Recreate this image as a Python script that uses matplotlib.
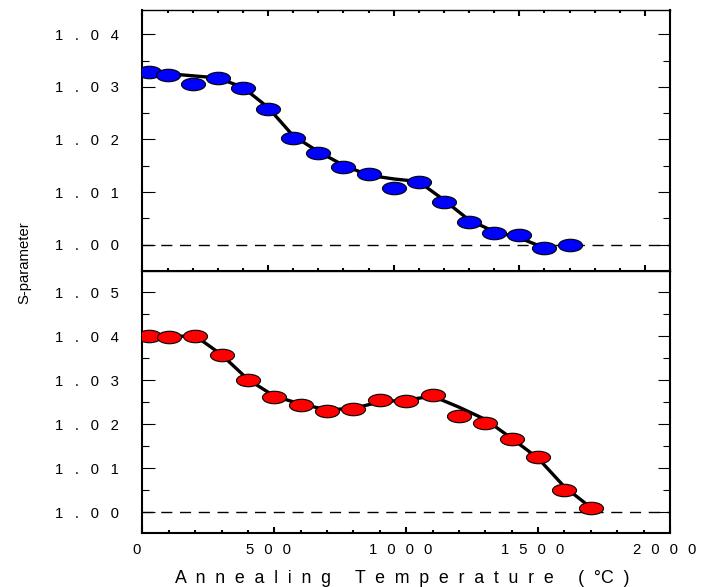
import matplotlib
matplotlib.use("Agg")
import matplotlib.pyplot as plt
from matplotlib.path import Path
from matplotlib.transforms import Affine2D, ScaledTranslation
from matplotlib.ticker import MultipleLocator

# ---------------- data ----------------
temps = [25, 100, 200, 300, 400, 500, 600, 700, 800, 900,
         1000, 1100, 1200, 1300, 1400, 1500, 1600, 1700]

s_top = [1.0329, 1.0323, 1.0306, 1.0317, 1.0297, 1.0257, 1.0202, 1.0175, 1.0147,
         1.0135, 1.0108, 1.0120, 1.0082, 1.0044, 1.0023, 1.0019, 0.9994, 1.0000]
fit_top = [1.0329, 1.0325, 1.0321, 1.0317, 1.0299, 1.0261, 1.0207, 1.0177, 1.0151,
           1.0132, 1.0125, 1.0120, 1.0085, 1.0047, 1.0025, 1.0013, 0.9994]

s_bot = [1.0401, 1.0398, 1.0401, 1.0357, 1.0301, 1.0263, 1.0244, 1.0231, 1.0235,
         1.0256, 1.0252, 1.0267, 1.0218, 1.0204, 1.0167, 1.0125, 1.0052, 1.0011]
fit_bot = [1.0401, 1.0399, 1.0401, 1.0358, 1.0302, 1.0264, 1.0246, 1.0233, 1.0236,
           1.0251, 1.0255, 1.0264, 1.0239, 1.0211, 1.0168, 1.0123, 1.0058, 1.0011]

xticks = [0, 500, 1000, 1500, 2000]
xticklabels = ["0", "500", "1000", "1500", "2000"]
yticks_top = [1.00, 1.01, 1.02, 1.03, 1.04]
yticklabels_top = ["1.00", "1.01", "1.02", "1.03", "1.04"]
yticks_bot = [1.00, 1.01, 1.02, 1.03, 1.04, 1.05]
yticklabels_bot = ["1.00", "1.01", "1.02", "1.03", "1.04", "1.05"]
xlabel = "Annealing Temperature (°C)"
ylabel = "S-parameter"
reference_level = 1.00

# ---------------- style ----------------
FONT = ["Liberation Sans", "DejaVu Sans"]
plt.rcParams["font.family"] = FONT

W, H = 702, 587
fig = plt.figure(figsize=(W / 100, H / 100), dpi=100)

L, R = 142.4 / W, 670 / W
y_top, y_mid, y_bot = 1 - 9.5 / H, 1 - 271 / H, 1 - 532.7 / H
ax1 = fig.add_axes([L, y_mid, R - L, y_top - y_mid])
ax2 = fig.add_axes([L, y_bot, R - L, y_mid - y_bot])

ellipse = Path.unit_circle().transformed(Affine2D().scale(1.0, 0.52))

SEP_Y = "\u2002 "
SEP_X = "\u2002\u2006"


def spaced(s, sep):
    return sep.join(s)


def style_axes(ax, top_ticks):
    for side in ["left", "right", "bottom"]:
        ax.spines[side].set_linewidth(1.5)
    ax.spines["top"].set_linewidth(1.0)
    ax.xaxis.set_minor_locator(MultipleLocator(100))
    ax.yaxis.set_minor_locator(MultipleLocator(0.005))
    ax.tick_params(axis="x", which="both", direction="in", top=top_ticks, bottom=True,
                   width=1.5)
    ax.tick_params(axis="x", which="major", length=4.2)
    ax.tick_params(axis="x", which="minor", length=2.4)
    ax.tick_params(axis="y", which="both", direction="in", left=True, right=True,
                   width=0.8)
    ax.tick_params(axis="y", which="major", length=9, pad=16.8, labelsize=10.75)
    ax.tick_params(axis="y", which="minor", length=5)


for ax, ys, fit, yt, ytl, col, ylim, xlim, top_ticks in [
    (ax1, s_top, fit_top, yticks_top, yticklabels_top, "#0000ff", (0.995, 1.0447), (0, 2100), True),
    (ax2, s_bot, fit_bot, yticks_bot, yticklabels_bot, "#ff0000", (0.9954, 1.0548), (0, 2000), False),
]:
    ax.axhline(reference_level, color="black", lw=1.0, ls=(0, (8, 5.5)), zorder=1)
    ax.plot(temps[:len(fit)], fit, color="black", lw=2.4, zorder=2,
            solid_joinstyle="round", solid_capstyle="round")
    ax.plot(temps, ys, ls="none", marker=ellipse, markersize=17.3,
            markerfacecolor=col, markeredgecolor="black", markeredgewidth=0.8, zorder=3)
    ax.set_xlim(*xlim)
    ax.set_ylim(*ylim)
    ax.set_yticks(yt)
    ax.set_yticklabels([spaced(t, SEP_Y) for t in ytl])
    ax.set_xticks(xticks)
    style_axes(ax, top_ticks)

ax1.set_xticklabels([])
ax2.set_xticklabels([spaced(t, SEP_X) for t in xticklabels])
ax2.tick_params(axis="x", which="major", pad=7.5, labelsize=10.75)
shift = ScaledTranslation(-5.5 / 100, 0, fig.dpi_scale_trans)
for lab in ax2.get_xticklabels():
    lab.set_transform(lab.get_transform() + shift)

xl = "  ".join(xlabel).replace("°  C", "°C")
fig.text(402.5 / W, 1 - 583.3 / H, xl, ha="center", va="baseline", fontsize=12.75)
fig.text(24 / W, 1 - 263 / H, ylabel, rotation=90, ha="center", va="center",
         fontsize=10.75)

fig.savefig("out.png", dpi=100)
